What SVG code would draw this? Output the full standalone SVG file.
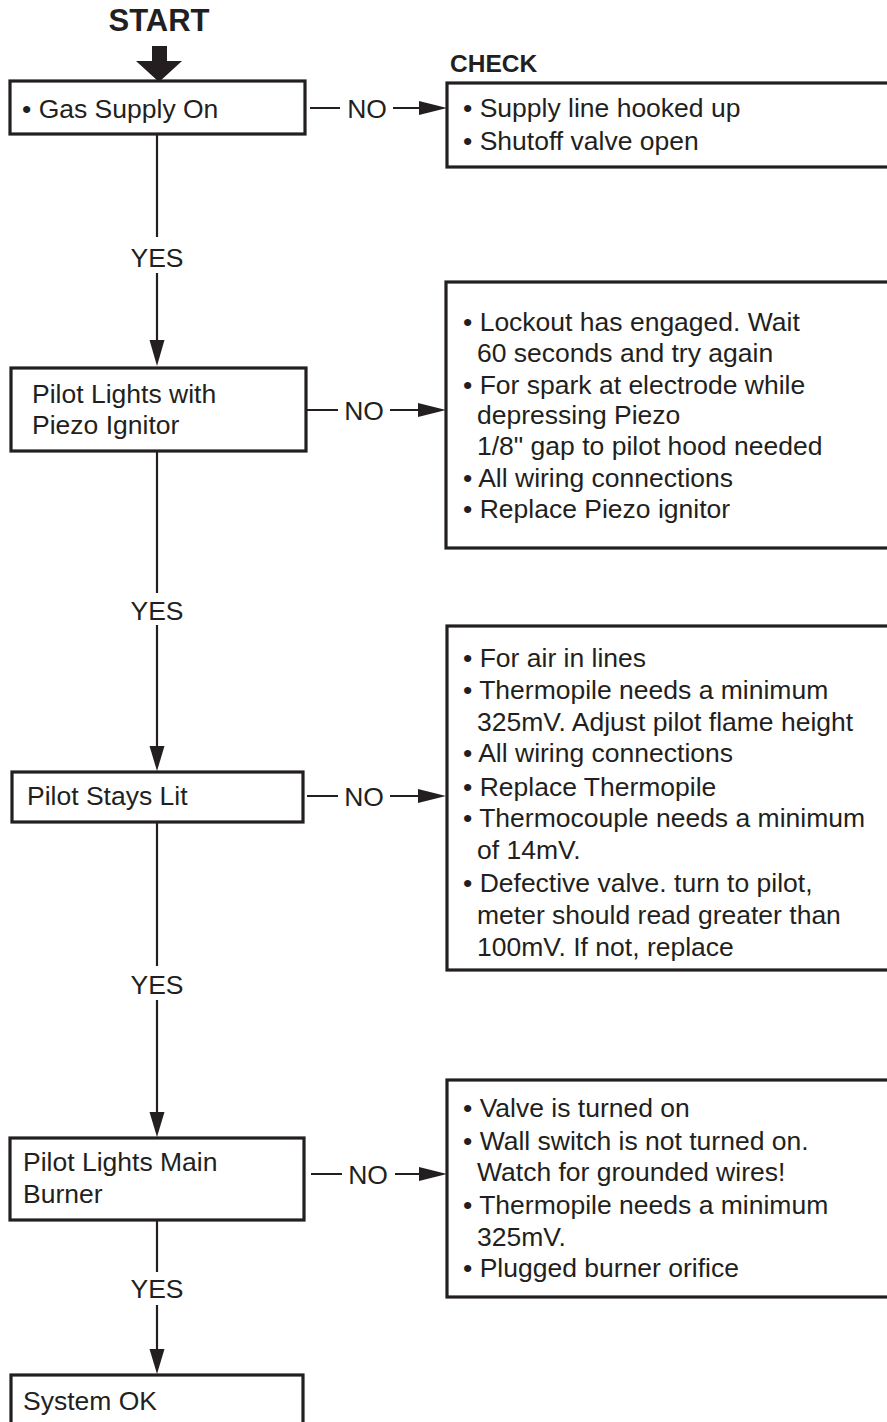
<svg xmlns="http://www.w3.org/2000/svg" width="887" height="1422" viewBox="0 0 887 1422">
<style>
text{font-family:"Liberation Sans",Arial,Helvetica,sans-serif;font-size:26.5px;fill:#231f20}
.b{font-weight:bold}
.box{fill:#fff;stroke:#231f20;stroke-width:3.2}
.ln{stroke:#231f20;stroke-width:2.2;fill:none}
.ah{fill:#231f20}
.c{text-anchor:middle}
</style>
<rect width="887" height="1422" fill="#fff"/>
<g id="start">
<text class="b c" x="159" y="31" style="font-size:31px">START</text>
<polygon class="ah" points="152,46 167,46 167,61 182,61 159,82 136,61 152,61"/>
</g>
<g id="n1">
<rect class="box" x="10" y="81" width="295" height="53"/>
<text x="22" y="118" xml:space="preserve">• Gas Supply On</text>
</g>
<g id="c1">
<text class="b" x="450" y="72" style="font-size:24.5px">CHECK</text>
<rect class="box" x="447" y="83" width="460" height="84"/>
<text x="463" y="117" xml:space="preserve">• Supply line hooked up</text>
<text x="463" y="150" xml:space="preserve">• Shutoff valve open</text>
</g>
<g id="n2">
<rect class="box" x="11" y="368" width="295" height="83"/>
<text x="32" y="403">Pilot Lights with</text>
<text x="32" y="434">Piezo Ignitor</text>
</g>
<g id="c2">
<rect class="box" x="446" y="282" width="460" height="266"/>
<text x="463" y="331" xml:space="preserve">• Lockout has engaged. Wait</text>
<text x="477" y="362">60 seconds and try again</text>
<text x="463" y="394" xml:space="preserve">• For spark at electrode while</text>
<text x="477" y="424">depressing Piezo</text>
<text x="477" y="455">1/8" gap to pilot hood needed</text>
<text x="463" y="487" xml:space="preserve">• All wiring connections</text>
<text x="463" y="518" xml:space="preserve">• Replace Piezo ignitor</text>
</g>
<g id="n3">
<rect class="box" x="12" y="772" width="291" height="50"/>
<text x="27" y="805">Pilot Stays Lit</text>
</g>
<g id="c3">
<rect class="box" x="447" y="626" width="460" height="344"/>
<text x="463" y="667" xml:space="preserve">• For air in lines</text>
<text x="463" y="699" xml:space="preserve">• Thermopile needs a minimum</text>
<text x="477" y="731">325mV. Adjust pilot flame height</text>
<text x="463" y="762" xml:space="preserve">• All wiring connections</text>
<text x="463" y="796" xml:space="preserve">• Replace Thermopile</text>
<text x="463" y="827" xml:space="preserve">• Thermocouple needs a minimum</text>
<text x="477" y="859">of 14mV.</text>
<text x="463" y="892" xml:space="preserve">• Defective valve. turn to pilot,</text>
<text x="477" y="924">meter should read greater than</text>
<text x="477" y="956">100mV. If not, replace</text>
</g>
<g id="n4">
<rect class="box" x="10" y="1138" width="294" height="82"/>
<text x="23" y="1171">Pilot Lights Main</text>
<text x="23" y="1203">Burner</text>
</g>
<g id="c4">
<rect class="box" x="447" y="1080" width="460" height="217"/>
<text x="463" y="1117" xml:space="preserve">• Valve is turned on</text>
<text x="463" y="1150" xml:space="preserve">• Wall switch is not turned on.</text>
<text x="477" y="1181">Watch for grounded wires!</text>
<text x="463" y="1214" xml:space="preserve">• Thermopile needs a minimum</text>
<text x="477" y="1246">325mV.</text>
<text x="463" y="1277" xml:space="preserve">• Plugged burner orifice</text>
</g>
<g id="n5">
<rect class="box" x="11" y="1375" width="292" height="70"/>
<text x="23" y="1410">System OK</text>
</g>
<g id="connectors">
<path class="ln" d="M157,134V237M157,273V340"/>
<polygon class="ah" points="149.5,340 164.5,340 157,366"/>
<text class="c" x="157" y="267">YES</text>
<path class="ln" d="M157,451V593M157,625V746"/>
<polygon class="ah" points="149.5,746 164.5,746 157,771"/>
<text class="c" x="157" y="620">YES</text>
<path class="ln" d="M157,822V966M157,1000V1112"/>
<polygon class="ah" points="149.5,1112 164.5,1112 157,1137"/>
<text class="c" x="157" y="994">YES</text>
<path class="ln" d="M157,1220V1272M157,1305V1349"/>
<polygon class="ah" points="149.5,1349 164.5,1349 157,1374"/>
<text class="c" x="157" y="1298">YES</text>
<path class="ln" d="M310,108H340M393,108H421"/>
<polygon class="ah" points="419,101 447,108 419,115"/>
<text class="c" x="367" y="117.5">NO</text>
<path class="ln" d="M306,410H338M390,410H419"/>
<polygon class="ah" points="418,403 446,410 418,417"/>
<text class="c" x="364" y="419.5">NO</text>
<path class="ln" d="M307,796H338M390,796H419"/>
<polygon class="ah" points="418,789 446,796 418,803"/>
<text class="c" x="364" y="805.5">NO</text>
<path class="ln" d="M311,1174H342M395,1174H421"/>
<polygon class="ah" points="419,1167 447,1174 419,1181"/>
<text class="c" x="368" y="1183.5">NO</text>
</g>
</svg>
